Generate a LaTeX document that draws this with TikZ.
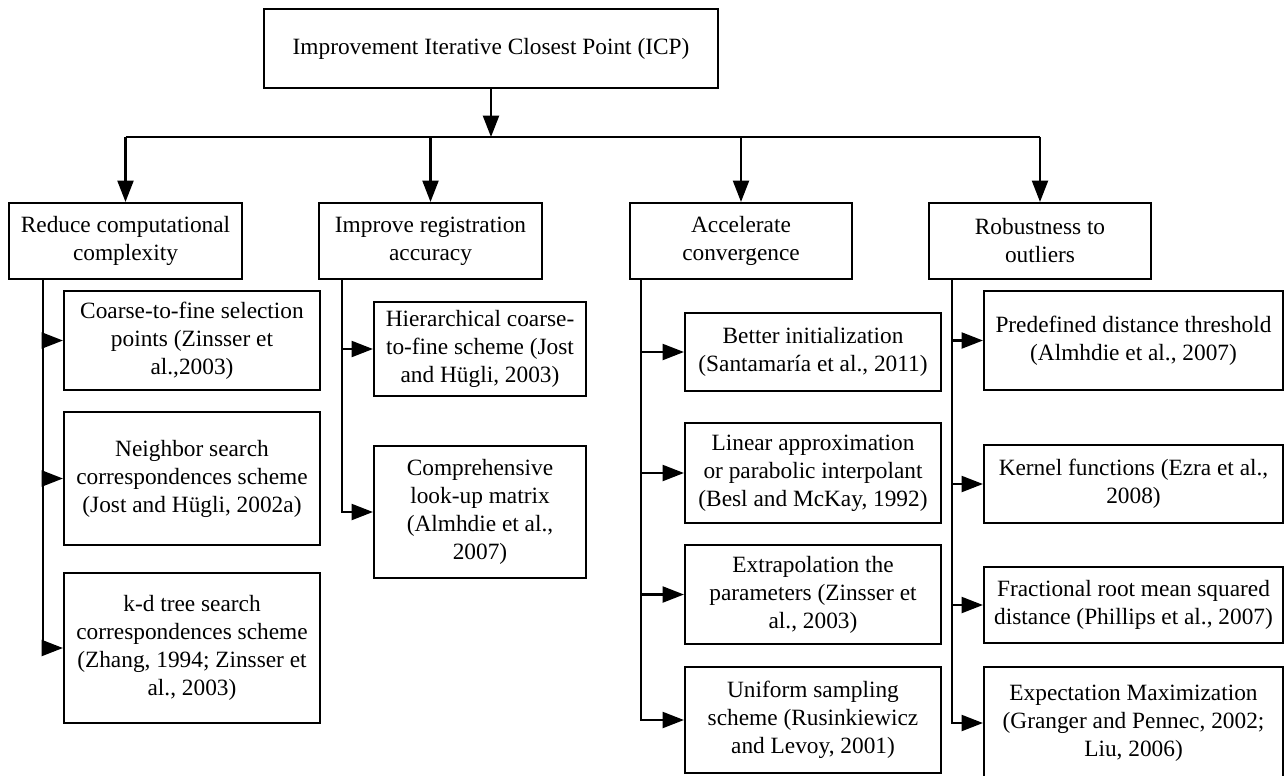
\documentclass[tikz,border=0pt]{standalone}
\usepackage{fontspec}
\setmainfont{Liberation Serif}
\usetikzlibrary{arrows.meta}
\newcommand\mybox[6]{\node[box,minimum width={(#4-#2)*0.75pt},minimum height={(#5-#3)*0.75pt}] (#1) at ({(#2+#4)/2},{(#3+#5)/2}) {#6};}
\begin{document}
\begin{tikzpicture}[x=0.75pt,y=-0.75pt,
  box/.style={draw,line width=1.6pt,align=center,inner sep=0pt,font=\fontsize{17.5}{21}\selectfont},
  arr/.style={line width=1.6pt,-{Triangle[length=16pt,width=12pt]}},
  ln/.style={line width=1.6pt}]
\useasboundingbox (0,0) rectangle (1284,775);
% top
\mybox{top}{264}{9}{718}{88}{Improvement Iterative Closest Point (ICP)}
% categories
\mybox{cat1}{9}{203}{242}{279}{Reduce computational\\complexity}
\mybox{cat2}{319}{203}{542}{279}{Improve registration\\accuracy}
\mybox{cat3}{630}{203}{852}{279}{Accelerate\\convergence}
\mybox{cat4}{929}{203}{1151}{279}{Robustness to\\outliers}
% column 1
\mybox{a1}{64}{291}{320}{390}{Coarse-to-fine selection\\points (Zinsser et\\al.,2003)}
\mybox{a2}{64}{412}{320}{545}{Neighbor search\\correspondences scheme\\(Jost and Hügli, 2002a)}
\mybox{a3}{64}{573}{320}{723}{k-d tree search\\correspondences scheme\\(Zhang, 1994; Zinsser et\\al., 2003)}
% column 2
\mybox{b1}{374}{302}{586}{396}{Hierarchical coarse-\\to-fine scheme (Jost\\and Hügli, 2003)}
\mybox{b2}{374}{446}{586}{578}{Comprehensive\\look-up matrix\\(Almhdie et al.,\\2007)}
% column 3
\mybox{c1}{685}{313}{941}{391}{Better initialization\\(Santamaría et al., 2011)}
\mybox{c2}{685}{423}{941}{523}{Linear approximation\\or parabolic interpolant\\(Besl and McKay, 1992)}
\mybox{c3}{685}{545}{941}{644}{Extrapolation the\\parameters (Zinsser et\\al., 2003)}
\mybox{c4}{685}{667}{941}{773}{Uniform sampling\\scheme (Rusinkiewicz\\and Levoy, 2001)}
% column 4
\mybox{d1}{984}{291}{1283}{390}{Predefined distance threshold\\(Almhdie et al., 2007)}
\mybox{d2}{984}{445}{1283}{523}{Kernel functions (Ezra et al.,\\2008)}
\mybox{d3}{984}{567}{1283}{643}{Fractional root mean squared\\distance (Phillips et al., 2007)}
\mybox{d4}{984}{667}{1283}{779}{Expectation Maximization\\(Granger and Pennec, 2002;\\Liu, 2006)}
% bus
\coordinate (bus) at (491,137);
\draw[arr] (top.south) -- (bus);
\draw[ln] (cat1.north |- bus) -- (cat4.north |- bus);
\foreach \c in {cat1,cat2,cat3,cat4}{\draw[arr] (\c.north |- bus) -- (\c.north);}
% trunks
\coordinate (t1) at (43,279);
\coordinate (t2) at (342,279);
\coordinate (t3) at (641,279);
\coordinate (t4) at (952,279);
\foreach \b in {a1,a2,a3}{\draw[arr] (t1) |- (\b.west);}
\foreach \b in {b1,b2}{\draw[arr] (t2) |- (\b.west);}
\foreach \b in {c1,c2,c3,c4}{\draw[arr] (t3) |- (\b.west);}
\foreach \b in {d1,d2,d3,d4}{\draw[arr] (t4) |- (\b.west);}
\end{tikzpicture}
\end{document}
